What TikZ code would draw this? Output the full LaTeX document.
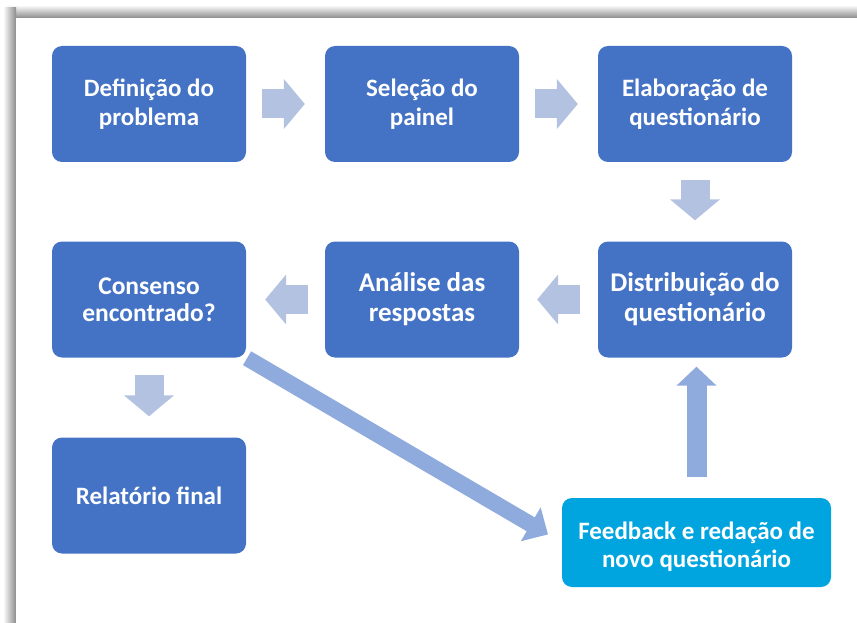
\documentclass[tikz,border=0pt]{standalone}
\usepackage{fontspec}
\setmainfont{Carlito}
\usetikzlibrary{arrows.meta}
\definecolor{boxblue}{HTML}{4472C4}
\definecolor{boxcyan}{HTML}{00A5E0}
\definecolor{arrowlight}{HTML}{B4C2E2}
\definecolor{arrowmid}{HTML}{8FAADC}
\tikzset{
  stagebox/.style={rectangle, rounded corners=10pt, fill=boxblue, text=white,
    minimum width=194pt, minimum height=116pt, inner sep=0pt, align=center,
    font=\fontsize{25}{28.5}\selectfont\bfseries},
  feedbox/.style={stagebox, fill=boxcyan, minimum width=269pt, minimum height=89pt,
    text height=54pt},
  flowarrow/.style={draw=arrowlight, line width=29pt,
    -{Triangle[width=49pt,length=21pt]}},
  loudarrow/.style={draw=arrowmid, line width=20pt,
    -{Triangle[width=39pt,length=19pt]}},
}
\begin{document}
\begin{tikzpicture}[x=1pt,y=-1pt]
\useasboundingbox (0,0) rectangle (857,623);
% page frame with its soft shadow
\fill[white] (0,0) rectangle (857,623);
\shade[top color=white, bottom color=black!45] (7,5) rectangle (857,18);
\shade[left color=white, right color=black!45] (3,8) rectangle (16,623);
\fill[white] (16,18) rectangle (857,623);

% stages
\node[stagebox] (def)  at (149,104)   {Definição do\\problema};
\node[stagebox] (sel)  at (422,104)   {Seleção do\\painel};
\node[stagebox] (ela)  at (695,104)   {Elaboração de\\questionário};
\node[stagebox, font=\fontsize{25.5}{27}\selectfont\bfseries] (cons) at (149,299.5) {Consenso\\encontrado?};
\node[stagebox, font=\fontsize{27}{30}\selectfont\bfseries] (ana)  at (422,299.5) {Análise das\\respostas};
\node[stagebox, font=\fontsize{27}{30}\selectfont\bfseries] (dist) at (695,299.5) {Distribuição do\\questionário};
\node[stagebox] (rel)  at (149,495.5) {Relatório final};
\node[feedbox]  (fb)   at (696.5,542.5) {Feedback e redação de\\novo questionário};

% flow between stages
\draw[flowarrow, shorten <=16pt, shorten >=20pt] (def) -- (sel);
\draw[flowarrow, shorten <=16pt, shorten >=20pt] (sel) -- (ela);
\draw[flowarrow, shorten <=18pt, shorten >=21pt] (ela) -- (dist);
\draw[flowarrow, shorten <=18pt, shorten >=18pt] (dist) -- (ana);
\draw[flowarrow, shorten <=17pt, shorten >=19pt] (ana) -- (cons);
\draw[flowarrow, shorten <=17pt, shorten >=21pt] (cons) -- (rel);

% feedback loop
\draw[loudarrow, line width=16pt, -{Triangle[width=38pt,length=20pt]},
      shorten <=1pt, shorten >=16pt] (cons.south east) -- (fb.west);
\draw[loudarrow, shorten <=21pt, shorten >=9pt] (fb.north) -- (fb.north |- dist.south);
\end{tikzpicture}
\end{document}
